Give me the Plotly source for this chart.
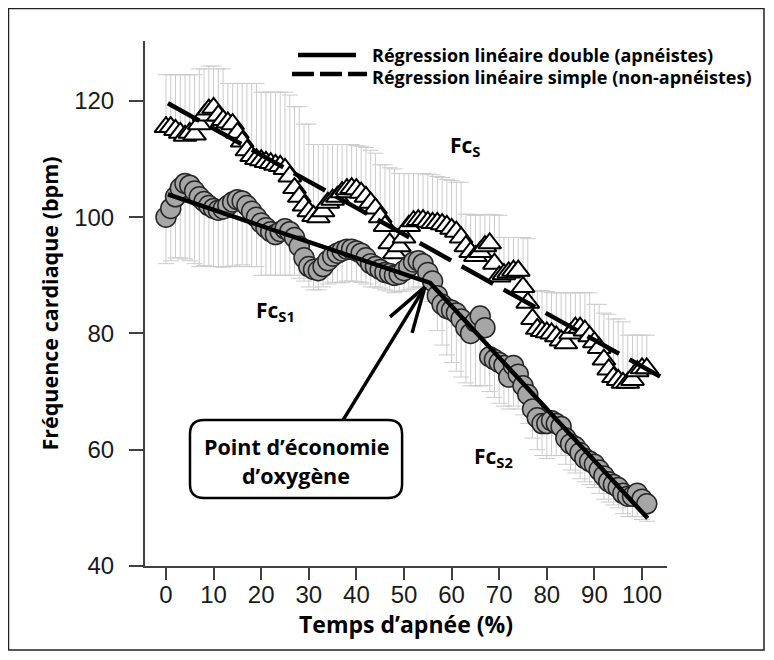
import plotly.graph_objects as go

# ---------------- data ----------------
pct = list(range(0, 102))

fc_apneistes = [100.0, 101.5, 103.5, 105.0, 105.8, 105.5, 104.5, 103.5, 102.7, 102.0,
                101.5, 101.2, 101.4, 102.0, 102.6, 103.0, 102.8, 102.0, 101.0, 100.0,
                99.0, 98.2, 97.5, 97.0, 97.5, 98.0, 97.5, 96.5, 95.0, 93.0,
                91.5, 91.0, 90.8, 91.5, 92.5, 93.3, 93.8, 94.2, 94.5, 94.5,
                94.2, 93.8, 93.0, 92.0, 91.5, 91.0, 90.5, 90.3, 90.0, 90.2,
                90.8, 91.5, 92.3, 92.5, 92.0, 90.5, 89.0, 86.5, 85.0, 84.3,
                84.0, 83.5, 82.5, 81.0, 80.0, 82.0, 83.0, 81.0, 76.0, 75.5,
                75.0, 74.5, 72.5, 74.5, 73.0, 71.0, 69.5, 67.0, 65.5, 64.5,
                64.5, 65.0, 64.5, 64.0, 62.0, 61.0, 60.5, 59.5, 58.5, 58.0,
                57.5, 56.5, 55.5, 54.5, 54.0, 53.5, 52.5, 52.0, 52.0, 52.5,
                51.5, 50.7]
err_apneistes = [8, 9, 10.5, 12, 13, 13, 12.5, 12, 11, 10.5,
                 10, 9.7, 10, 10.5, 11, 11.5, 11, 10.5, 9.5, 8.5,
                 9, 8.2, 7.5, 7, 7.5, 8, 7.5, 6.5, 5.5, 4,
                 3.5, 3.5, 3.3, 3.5, 4, 4.5, 5, 5.5, 5.5, 5.5,
                 5.3, 5, 4.5, 4, 3.5, 3.2, 3, 3, 3, 3,
                 3.5, 4, 4.5, 4.5, 4, 3.5, 3.5, 6, 7, 8,
                 9, 10, 10, 9.5, 9, 11, 12, 10, 6, 6.5,
                 7, 7, 5.5, 7, 6, 5, 5, 5, 5.5, 5.5,
                 6, 6, 5.5, 5, 4.5, 4.5, 4.5, 4.5, 4, 4,
                 4, 4, 4, 3.5, 3.5, 3.5, 3.5, 3.5, 3.5, 4,
                 3.5, 3]

fc_non_apneistes = [115.5, 115.5, 115.0, 114.5, 114.0, 114.5, 114.2, 116.0, 117.5, 118.5,
                    118.8, 117.5, 116.7, 116.3, 116.0, 114.5, 113.0, 111.5, 110.5, 110.0,
                    109.8, 109.5, 109.3, 109.0, 108.8, 108.3, 107.0, 105.0, 103.5, 102.0,
                    101.0, 100.2, 100.0, 101.0, 102.5, 103.0, 103.5, 104.3, 104.8, 105.0,
                    104.8, 104.2, 103.5, 102.5, 101.5, 100.0, 98.5, 95.5, 93.8, 95.0,
                    96.5, 98.5, 99.3, 99.5, 99.5, 99.2, 99.0, 99.0, 98.8, 98.5,
                    98.0, 97.5, 96.5, 95.0, 94.0, 93.3, 94.0, 95.0, 95.5, 92.0,
                    89.8, 90.2, 90.5, 90.8, 90.8, 88.0, 85.3, 82.5, 80.8, 80.4,
                    80.2, 80.0, 79.5, 78.8, 78.3, 80.0, 81.0, 81.0, 80.5, 79.5,
                    78.5, 77.5, 75.5, 73.8, 72.5, 72.0, 71.5, 71.5, 72.0, 73.5,
                    74.0, 74.0]
err_non_apneistes = [9, 9, 9.5, 10, 10.5, 10, 10.3, 9.5, 8, 7.5,
                     7.2, 8, 8.8, 6.7, 7, 8.5, 10, 11.5, 12.5, 13,
                     11.7, 12, 12.2, 12.5, 12.7, 13.2, 14, 14, 15.5, 14,
                     15, 12.3, 12.5, 11.5, 10, 9.5, 9, 8.2, 7.7, 7.5,
                     7.5, 8, 8.5, 9, 9.5, 9, 10.5, 13, 14.5, 12.5,
                     11, 9, 8.2, 8, 8, 8.2, 8.3, 8, 8, 8,
                     8.3, 8.5, 9.5, 5.5, 6.5, 7, 6.4, 5.4, 5, 8.4,
                     10.5, 6.3, 6, 5.7, 5.7, 8.5, 11, 4.7, 6.5, 7,
                     7, 7, 7.5, 8.2, 8.7, 7, 6, 6, 6.5, 7.5,
                     6.5, 7.5, 8, 9.5, 10, 10.5, 10.5, 8.2, 7.7, 6.2,
                     5.7, 5.7]

# regression lines (end points)
reg_double_x = [0.4, 55.5, 101.2]
reg_double_y = [103.9, 88.7, 48.2]
reg_simple_x = [0.4, 103.8]
reg_simple_y = [119.6, 72.6]

x_ticks = [0, 10, 20, 30, 40, 50, 60, 70, 80, 90, 100]
y_ticks = [40, 60, 80, 100, 120]

legend_double = "Régression linéaire double (apnéistes)"
legend_simple = "Régression linéaire simple (non-apnéistes)"

TXT_FONT = "Open Sans"
NUM_FONT = "Liberation Sans"

fig = go.Figure()

# non-apneists: white triangles, upper error bars
fig.add_trace(go.Scatter(
    x=pct, y=fc_non_apneistes, mode="markers",
    marker=dict(symbol="triangle-up", size=20, color="white",
                line=dict(color="black", width=2)),
    error_y=dict(type="data", symmetric=False, array=err_non_apneistes,
                 arrayminus=[0] * len(pct), color="#cccccc", thickness=1, width=8),
    showlegend=False, hoverinfo="x+y"))

# apneists: grey circles, lower error bars
fig.add_trace(go.Scatter(
    x=pct, y=fc_apneistes, mode="markers",
    marker=dict(symbol="circle", size=20, color="#a6a6a6",
                line=dict(color="#262626", width=1.5)),
    error_y=dict(type="data", symmetric=False, array=[0] * len(pct),
                 arrayminus=err_apneistes, color="#cccccc", thickness=1, width=8),
    showlegend=False, hoverinfo="x+y"))

# regression lines
fig.add_trace(go.Scatter(x=reg_simple_x, y=reg_simple_y, mode="lines",
                         line=dict(color="black", width=4.5, dash="36px,12px"),
                         showlegend=False, hoverinfo="skip"))
fig.add_trace(go.Scatter(x=reg_double_x, y=reg_double_y, mode="lines",
                         line=dict(color="black", width=4.5),
                         showlegend=False, hoverinfo="skip"))

shapes = []
annotations = []

# outer frame
shapes.append(dict(type="rect", xref="paper", yref="paper",
                   x0=-0.2615, x1=1.1858, y0=-0.160, y1=1.0619,
                   line=dict(color="#222", width=1.5), layer="above"))

# manual legend
shapes.append(dict(type="line", xref="paper", yref="paper",
                   x0=0.2931, x1=0.4042, y0=0.9733, y1=0.9733,
                   line=dict(color="black", width=4.5)))
shapes.append(dict(type="line", xref="paper", yref="paper",
                   x0=0.2816, x1=0.4253, y0=0.9371, y1=0.9371,
                   line=dict(color="black", width=4.5, dash="22px,6px")))
annotations.append(dict(xref="paper", yref="paper", x=0.431, y=0.9733,
                        xanchor="left", yanchor="middle", showarrow=False,
                        text="<b>" + legend_double + "</b>",
                        font=dict(family=TXT_FONT, size=18, color="black")))
annotations.append(dict(xref="paper", yref="paper", x=0.431, y=0.9314,
                        xanchor="left", yanchor="middle", showarrow=False,
                        text="<b>" + legend_simple + "</b>",
                        font=dict(family=TXT_FONT, size=18, color="black")))

# rounded box
bx0, bx1, by0, by1 = 5.04, 49.6, 51.7, 65.12
rx, ry = 2.94, 2.41
path = (f"M {bx0+rx},{by1} L {bx1-rx},{by1} Q {bx1},{by1} {bx1},{by1-ry} "
        f"L {bx1},{by0+ry} Q {bx1},{by0} {bx1-rx},{by0} L {bx0+rx},{by0} "
        f"Q {bx0},{by0} {bx0},{by0+ry} L {bx0},{by1-ry} Q {bx0},{by1} {bx0+rx},{by1} Z")
shapes.append(dict(type="path", xref="x", yref="y", path=path,
                   fillcolor="white", line=dict(color="black", width=2.5), layer="above"))
annotations.append(dict(xref="x", yref="y", x=27.5, y=60.5, showarrow=False,
                        text="<b>Point d’économie</b>",
                        font=dict(family=TXT_FONT, size=21.5, color="black")))
annotations.append(dict(xref="x", yref="y", x=27.3, y=55.6, showarrow=False,
                        text="<b>d’oxygène</b>",
                        font=dict(family=TXT_FONT, size=21.5, color="black")))

# arrow (shaft + open head)
tip = (54.4, 88.0)
for (ax, ay) in [(37.2, 65.1), (47.06, 82.84), (51.7, 80.1)]:
    shapes.append(dict(type="line", xref="x", yref="y", x0=ax, y0=ay, x1=tip[0], y1=tip[1],
                       line=dict(color="black", width=3.5), layer="above"))

# Fc labels
for (lx, ly, sub) in [(62.8, 112.3, "S"), (22.9, 83.9, "S1"), (68.9, 58.75, "S2")]:
    annotations.append(dict(xref="x", yref="y", x=lx, y=ly, showarrow=False,
                            text=f"<b>Fc<sub>{sub}</sub></b>",
                            font=dict(family=TXT_FONT, size=21, color="black")))

# the page body adds an 8 px offset, so the figure is 8 px smaller and margins shifted
fig.update_layout(
    width=766, height=652, autosize=False,
    margin=dict(l=137, r=107, t=33, b=94),
    paper_bgcolor="white", plot_bgcolor="white",
    shapes=shapes, annotations=annotations,
    xaxis=dict(range=[-4.41, 105.25], tickvals=x_ticks, ticks="outside", ticklen=12,
               tickwidth=1.5, tickcolor="#404040", showline=True, linecolor="#404040",
               linewidth=2, showgrid=False, zeroline=False, automargin=False,
               ticklabelstandoff=-6,
               tickfont=dict(family=NUM_FONT, size=24, color="#1a1a1a"),
               title=dict(text="<b>Temps d’apnée (%)</b>", standoff=6,
                          font=dict(family=TXT_FONT, size=23, color="black"))),
    yaxis=dict(range=[40, 130.3], tickvals=y_ticks, ticks="outside", ticklen=14,
               tickwidth=1.5, tickcolor="#404040", showline=True, linecolor="#404040",
               linewidth=2, showgrid=False, zeroline=False, automargin=False,
               ticklabelstandoff=10,
               tickfont=dict(family=NUM_FONT, size=24, color="#1a1a1a"),
               title=dict(text="<b>Fréquence cardiaque (bpm)</b>", standoff=10,
                          font=dict(family=TXT_FONT, size=21.5, color="black"))),
)

fig.write_html("out.html")
